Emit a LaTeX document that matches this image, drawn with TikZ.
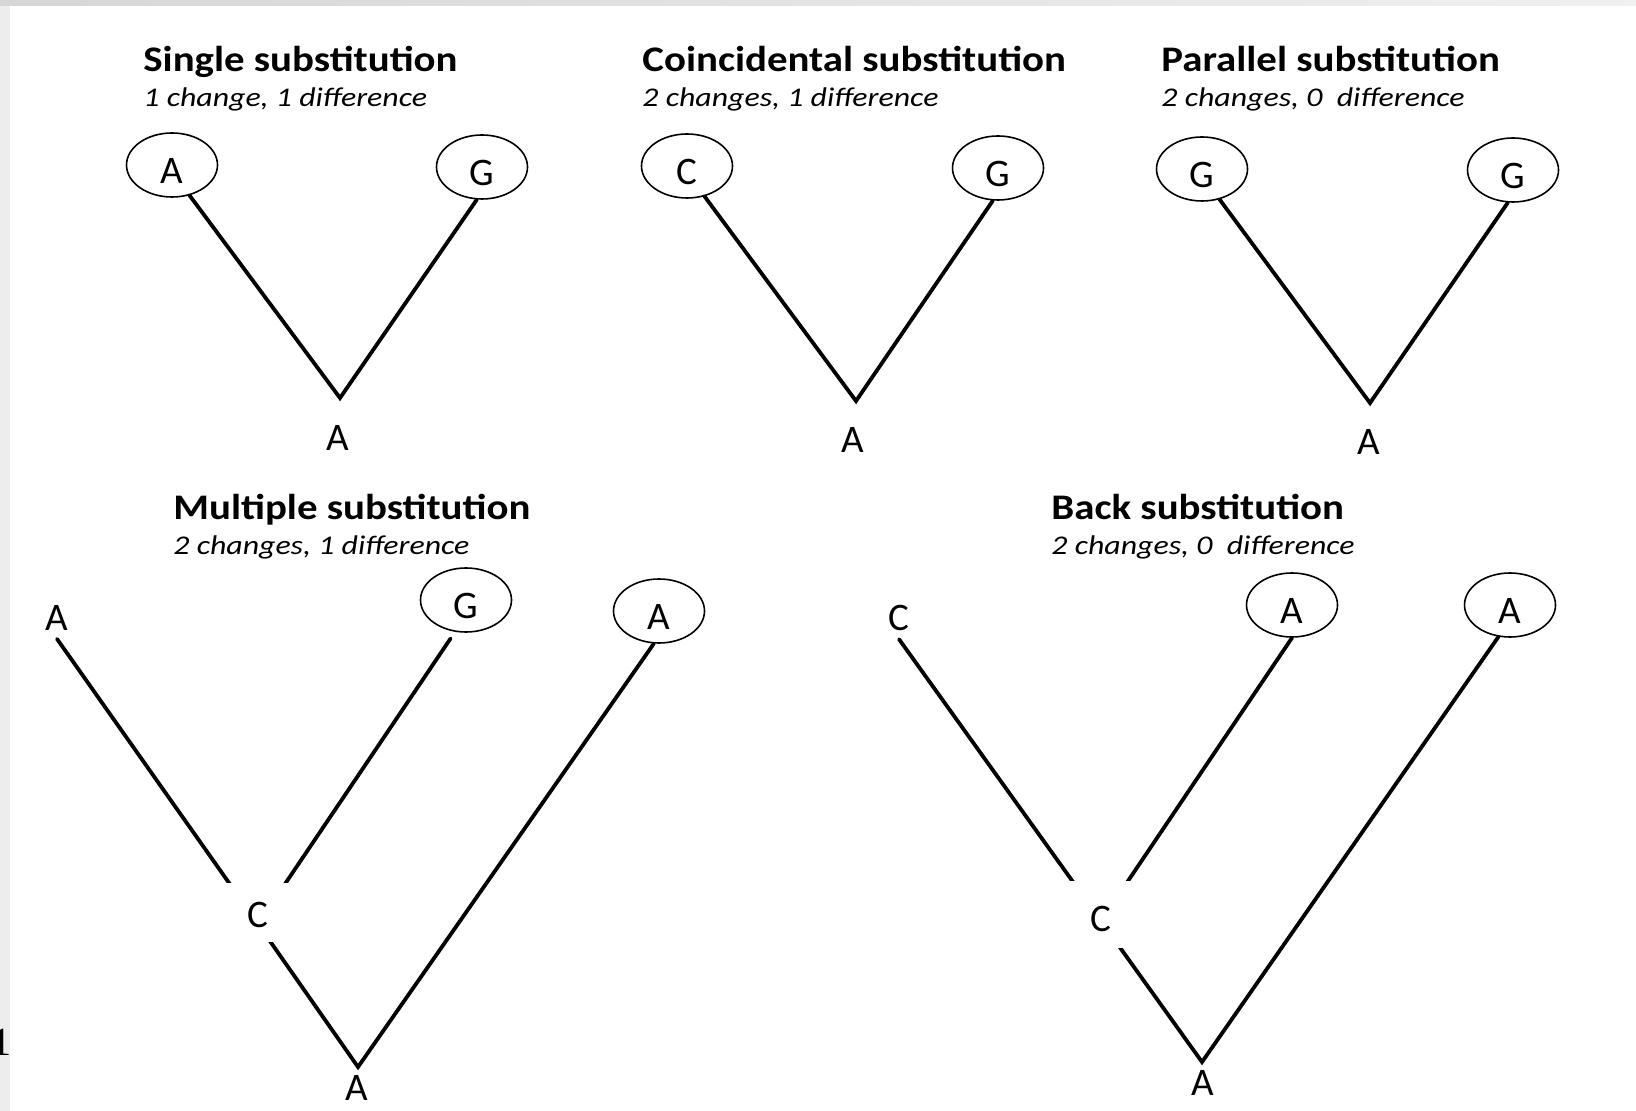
\documentclass[tikz,border=0pt]{standalone}
\usepackage{fontspec}
\setmainfont{Carlito}
\newfontfamily\headfont[FakeStretch=1.135]{Carlito}
\newfontfamily\notefont[FakeStretch=1.18]{Carlito}
\newfontfamily\folioface{Liberation Serif}
\usetikzlibrary{shapes.geometric}

\tikzset{
  branch/.style={line width=1.9pt, line cap=round},
  tip/.style={ellipse, draw, line width=0.8pt, minimum width=45.5pt,
    minimum height=32pt, inner sep=0pt,
    font=\fontsize{19.5}{20}\selectfont, text height=18.3pt, text depth=0pt},
  letter/.style={inner sep=4pt, font=\fontsize{19.5}{20}\selectfont},
  knot/.style={fill=white, inner sep=0pt, minimum width=33pt,
    minimum height=29.5pt, text depth=0pt,
    font=\fontsize{19.5}{20}\selectfont},
  headline/.style={anchor=base west, inner sep=0pt,
    font=\headfont\bfseries\fontsize{18}{20}\selectfont},
  subline/.style={anchor=base west, inner sep=0pt,
    font=\notefont\itshape\fontsize{13.5}{15}\selectfont},
}

\begin{document}
\begin{tikzpicture}[x=0.5pt, y=-0.5pt]
  % page and its grey edges
  \fill[white] (0,0) rectangle (1636,1111);
  \useasboundingbox (0,0) rectangle (1636,1111);
  \fill[gray!14] (0,0) rectangle (10,1111);
  \shade[left color=gray!32, right color=gray!12] (0,0) rectangle (1636,6);
  \node[anchor=base west, inner sep=0pt,
    font=\folioface\fontsize{20}{20}\selectfont] (folio) at (-8.6,1055) {1};

  % ---- single substitution
  \node[headline] (t1) at (143,72) {Single substitution};
  \node[subline] (s1) at (143,107) {1 change, 1 difference};
  \node[tip] (p1a) at (172,165) {A};
  \node[tip] (p1b) at (482,167) {G};
  \coordinate (p1v) at (340,398);
  \node[letter] (p1r) at (338,438) {A};
  \draw[branch] (p1a.-60) -- (p1v) -- (p1b.-99);

  % ---- coincidental substitution
  \node[headline] (t2) at (642,72) {Coincidental substitution};
  \node[subline] (s2) at (642,107) {2 changes, 1 difference};
  \node[tip] (p2a) at (687,166) {C};
  \node[tip] (p2b) at (998,168) {G};
  \coordinate (p2v) at (856,401);
  \node[letter] (p2r) at (853,440) {A};
  \draw[branch] (p2a.-60) -- (p2v) -- (p2b.-99);

  % ---- parallel substitution
  \node[headline] (t3) at (1161,72) {Parallel substitution};
  \node[subline] (s3) at (1161,107) {2 changes, 0~ difference};
  \node[tip] (p3a) at (1202,169) {G};
  \node[tip] (p3b) at (1513,170) {G};
  \coordinate (p3v) at (1370,403);
  \node[letter] (p3r) at (1369,442) {A};
  \draw[branch] (p3a.-60) -- (p3v) -- (p3b.-99);

  % ---- multiple substitution
  \node[headline] (t4) at (173,520) {Multiple substitution};
  \node[subline] (s4) at (173,554) {2 changes, 1 difference};
  \node[letter] (p4a) at (57,618) {A};
  \node[tip] (p4b) at (466,600) {G};
  \node[tip] (p4c) at (659,611) {A};
  \coordinate (p4j) at (258,924);
  \coordinate (p4v) at (358,1067);
  \node[letter] (p4r) at (357,1088) {A};
  \draw[branch] (p4a.south) -- (p4j);
  \draw[branch, shorten <=4pt] (p4b.-109) -- (p4j);
  \draw[branch] (p4j) -- (p4v) -- (p4c.-99);
  \node[knot, text height=14.8pt] (p4m) at (258,912.5) {C};

  % ---- back substitution
  \node[headline] (t5) at (1051,520) {Back substitution};
  \node[subline] (s5) at (1051,554) {2 changes, 0~ difference};
  \node[letter] (p5a) at (899,618) {C};
  \node[tip] (p5b) at (1292,605) {A};
  \node[tip] (p5c) at (1510,605) {A};
  \coordinate (p5j) at (1101,921);
  \coordinate (p5v) at (1202,1062);
  \node[letter] (p5r) at (1203,1083) {A};
  \draw[branch] (p5a.south) -- (p5j) -- (p5b.south);
  \draw[branch] (p5j) -- (p5v) -- (p5c.-110);
  \node[knot, text height=17.3pt, minimum height=33.5pt] (p5m) at (1101,914.5) {C};
\end{tikzpicture}
\end{document}
